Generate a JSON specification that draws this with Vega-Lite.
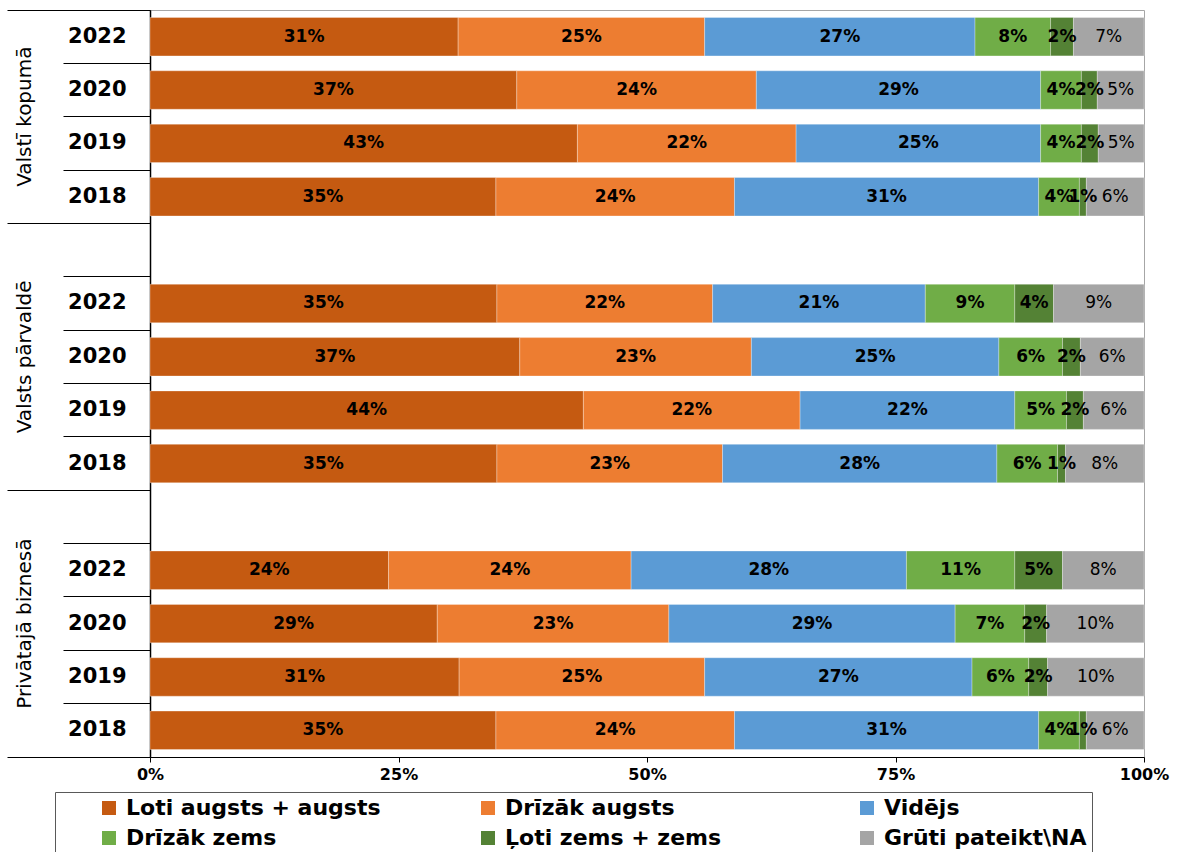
{
  "$schema": "https://vega.github.io/schema/vega-lite/v6.json",
  "width": 994,
  "height": 747,
  "autosize": {"type": "none"},
  "padding": {"left": 150, "top": 10, "right": 35, "bottom": 95},
  "config": {"view": {"stroke": "#A6A6A6", "strokeWidth": 1}, "font": "DejaVu Sans"},
  "data": {"values": [
    {"r":"VK2022","c":"Loti augsts + augsts","v":0.310},{"r":"VK2022","c":"Drīzāk augsts","v":0.248},{"r":"VK2022","c":"Vidējs","v":0.272},{"r":"VK2022","c":"Drīzāk zems","v":0.076},{"r":"VK2022","c":"Ļoti zems + zems","v":0.023},{"r":"VK2022","c":"Grūti pateikt\\NA","v":0.071},
    {"r":"VK2020","c":"Loti augsts + augsts","v":0.369},{"r":"VK2020","c":"Drīzāk augsts","v":0.241},{"r":"VK2020","c":"Vidējs","v":0.286},{"r":"VK2020","c":"Drīzāk zems","v":0.041},{"r":"VK2020","c":"Ļoti zems + zems","v":0.016},{"r":"VK2020","c":"Grūti pateikt\\NA","v":0.047},
    {"r":"VK2019","c":"Loti augsts + augsts","v":0.430},{"r":"VK2019","c":"Drīzāk augsts","v":0.220},{"r":"VK2019","c":"Vidējs","v":0.246},{"r":"VK2019","c":"Drīzāk zems","v":0.041},{"r":"VK2019","c":"Ļoti zems + zems","v":0.017},{"r":"VK2019","c":"Grūti pateikt\\NA","v":0.046},
    {"r":"VK2018","c":"Loti augsts + augsts","v":0.348},{"r":"VK2018","c":"Drīzāk augsts","v":0.240},{"r":"VK2018","c":"Vidējs","v":0.306},{"r":"VK2018","c":"Drīzāk zems","v":0.041},{"r":"VK2018","c":"Ļoti zems + zems","v":0.007},{"r":"VK2018","c":"Grūti pateikt\\NA","v":0.058},
    {"r":"VP2022","c":"Loti augsts + augsts","v":0.349},{"r":"VP2022","c":"Drīzāk augsts","v":0.217},{"r":"VP2022","c":"Vidējs","v":0.214},{"r":"VP2022","c":"Drīzāk zems","v":0.090},{"r":"VP2022","c":"Ļoti zems + zems","v":0.039},{"r":"VP2022","c":"Grūti pateikt\\NA","v":0.091},
    {"r":"VP2020","c":"Loti augsts + augsts","v":0.372},{"r":"VP2020","c":"Drīzāk augsts","v":0.233},{"r":"VP2020","c":"Vidējs","v":0.249},{"r":"VP2020","c":"Drīzāk zems","v":0.064},{"r":"VP2020","c":"Ļoti zems + zems","v":0.018},{"r":"VP2020","c":"Grūti pateikt\\NA","v":0.064},
    {"r":"VP2019","c":"Loti augsts + augsts","v":0.436},{"r":"VP2019","c":"Drīzāk augsts","v":0.218},{"r":"VP2019","c":"Vidējs","v":0.216},{"r":"VP2019","c":"Drīzāk zems","v":0.052},{"r":"VP2019","c":"Ļoti zems + zems","v":0.017},{"r":"VP2019","c":"Grūti pateikt\\NA","v":0.061},
    {"r":"VP2018","c":"Loti augsts + augsts","v":0.349},{"r":"VP2018","c":"Drīzāk augsts","v":0.227},{"r":"VP2018","c":"Vidējs","v":0.276},{"r":"VP2018","c":"Drīzāk zems","v":0.061},{"r":"VP2018","c":"Ļoti zems + zems","v":0.008},{"r":"VP2018","c":"Grūti pateikt\\NA","v":0.079},
    {"r":"PB2022","c":"Loti augsts + augsts","v":0.240},{"r":"PB2022","c":"Drīzāk augsts","v":0.244},{"r":"PB2022","c":"Vidējs","v":0.277},{"r":"PB2022","c":"Drīzāk zems","v":0.109},{"r":"PB2022","c":"Ļoti zems + zems","v":0.048},{"r":"PB2022","c":"Grūti pateikt\\NA","v":0.082},
    {"r":"PB2020","c":"Loti augsts + augsts","v":0.289},{"r":"PB2020","c":"Drīzāk augsts","v":0.233},{"r":"PB2020","c":"Vidējs","v":0.288},{"r":"PB2020","c":"Drīzāk zems","v":0.070},{"r":"PB2020","c":"Ļoti zems + zems","v":0.022},{"r":"PB2020","c":"Grūti pateikt\\NA","v":0.098},
    {"r":"PB2019","c":"Loti augsts + augsts","v":0.311},{"r":"PB2019","c":"Drīzāk augsts","v":0.247},{"r":"PB2019","c":"Vidējs","v":0.269},{"r":"PB2019","c":"Drīzāk zems","v":0.057},{"r":"PB2019","c":"Ļoti zems + zems","v":0.019},{"r":"PB2019","c":"Grūti pateikt\\NA","v":0.097},
    {"r":"PB2018","c":"Loti augsts + augsts","v":0.348},{"r":"PB2018","c":"Drīzāk augsts","v":0.240},{"r":"PB2018","c":"Vidējs","v":0.306},{"r":"PB2018","c":"Drīzāk zems","v":0.041},{"r":"PB2018","c":"Ļoti zems + zems","v":0.007},{"r":"PB2018","c":"Grūti pateikt\\NA","v":0.058}
  ]},
  "transform": [
    {"calculate": "datum.c == 'Loti augsts + augsts' ? 0 : datum.c == 'Drīzāk augsts' ? 1 : datum.c == 'Vidējs' ? 2 : datum.c == 'Drīzāk zems' ? 3 : datum.c == 'Ļoti zems + zems' ? 4 : 5", "as": "o"},
    {"stack": "v", "groupby": ["r"], "sort": [{"field": "o", "order": "ascending"}], "as": ["v0", "v1"]},
    {"calculate": "(datum.v0 + datum.v1) / 2", "as": "mid"}
  ],
  "layer": [
    {
      "mark": {"type": "bar", "height": {"band": 0.72}, "stroke": "white", "strokeWidth": 0.5, "strokeOpacity": 0.6},
      "encoding": {
        "y": {"field": "r", "type": "nominal",
          "scale": {"domain": ["VK2022","VK2020","VK2019","VK2018","gap1","VP2022","VP2020","VP2019","VP2018","gap2","PB2022","PB2020","PB2019","PB2018"], "paddingInner": 0, "paddingOuter": 0},
          "axis": {"orient": "left", "title": null, "bandPosition": 0, "tickSize": 87, "tickColor": "black", "tickWidth": 1, "domainColor": "black", "domainWidth": 1.5,
            "labelExpr": "indexof(datum.value, 'gap') == 0 ? '' : slice(datum.value, 2)",
            "labelFont": "DejaVu Sans", "labelFontWeight": "bold", "labelFontSize": 21, "labelColor": "black", "labelPadding": -63, "labelAlign": "right", "labelBaseline": "middle"}},
        "x": {"field": "v0", "type": "quantitative", "scale": {"domain": [0, 1]},
          "axis": {"orient": "bottom", "title": null, "values": [0, 0.25, 0.5, 0.75, 1], "format": ".0%", "grid": false, "domainColor": "black", "tickColor": "black", "tickSize": 5, "labelFont": "DejaVu Sans", "labelFontWeight": "bold", "labelFontSize": 16, "labelColor": "black", "labelPadding": 4, "labelFlush": false}},
        "x2": {"field": "v1"},
        "color": {"field": "c", "type": "nominal",
          "scale": {"domain": ["Loti augsts + augsts","Drīzāk augsts","Vidējs","Drīzāk zems","Ļoti zems + zems","Grūti pateikt\\NA"], "range": ["#C55A11","#ED7D31","#5B9BD5","#70AD47","#548235","#A5A5A5"]},
          "legend": {"orient": "none", "legendX": -95, "legendY": 782, "direction": "horizontal", "columns": 3, "gridAlign": "all", "columnPadding": 96, "rowPadding": 8,
            "symbolType": "square", "symbolSize": 196, "symbolStrokeWidth": 0, "labelFont": "DejaVu Sans", "labelFontWeight": "bold", "labelFontSize": 22, "labelColor": "black", "labelOffset": 6, "labelLimit": 500,
            "padding": 5, "strokeColor": "#595959", "title": " ", "titleOrient": "left", "titleFontSize": 1, "titlePadding": 38}}
      }
    },
    {
      "transform": [{"filter": "datum.o < 5"}],
      "mark": {"type": "text", "font": "DejaVu Sans", "fontWeight": "bold", "fontSize": 17, "color": "black", "align": "center", "baseline": "middle"},
      "encoding": {
        "y": {"field": "r", "type": "nominal", "axis": null},
        "x": {"field": "mid", "type": "quantitative",
          "axis": {"orient": "bottom", "title": null, "values": [0, 0.25, 0.5, 0.75, 1], "format": ".0%", "grid": false, "domainColor": "black", "tickColor": "black", "tickSize": 5, "labelFont": "DejaVu Sans", "labelFontWeight": "bold", "labelFontSize": 16, "labelColor": "black", "labelPadding": 4, "labelFlush": false}},
        "text": {"field": "v", "type": "quantitative", "format": ".0%"}
      }
    },
    {
      "transform": [{"filter": "datum.o == 5"}],
      "mark": {"type": "text", "font": "DejaVu Sans", "fontWeight": "normal", "fontSize": 17, "color": "black", "align": "center", "baseline": "middle"},
      "encoding": {
        "y": {"field": "r", "type": "nominal", "axis": null},
        "x": {"field": "mid", "type": "quantitative",
          "axis": {"orient": "bottom", "title": null, "values": [0, 0.25, 0.5, 0.75, 1], "format": ".0%", "grid": false, "domainColor": "black", "tickColor": "black", "tickSize": 5, "labelFont": "DejaVu Sans", "labelFontWeight": "bold", "labelFontSize": 16, "labelColor": "black", "labelPadding": 4, "labelFlush": false}},
        "text": {"field": "v", "type": "quantitative", "format": ".0%"}
      }
    },
    {
      "mark": {"type": "rule", "opacity": 0},
      "encoding": {
        "y": {"field": "r", "type": "nominal",
          "axis": {"orient": "left", "title": null, "values": ["VK2022","gap1","gap2"], "bandPosition": 0, "tickSize": 143, "tickColor": "black", "tickWidth": 1, "domain": false,
            "labelExpr": "datum.value == 'VK2022' ? 'Valstī kopumā' : datum.value == 'gap1' ? 'Valsts pārvaldē' : 'Privātajā biznesā'",
            "labelAngle": -90, "labelAlign": "center", "labelBaseline": "alphabetic", "labelFont": "DejaVu Sans", "labelFontSize": 20, "labelColor": "black", "labelPadding": -23,
            "labelOffset": {"condition": {"test": "datum.value == 'VK2022'", "value": 80}, "value": 106.8}}}
      }
    },
    {
      "mark": {"type": "rule", "opacity": 0},
      "encoding": {
        "y": {"field": "r", "type": "nominal",
          "axis": {"orient": "left", "title": null, "values": ["PB2018"], "bandPosition": 1, "tickSize": 143, "tickColor": "black", "tickWidth": 1, "domain": false, "labels": false}}
      }
    }
  ],
  "resolve": {"axis": {"y": "independent"}}
}
